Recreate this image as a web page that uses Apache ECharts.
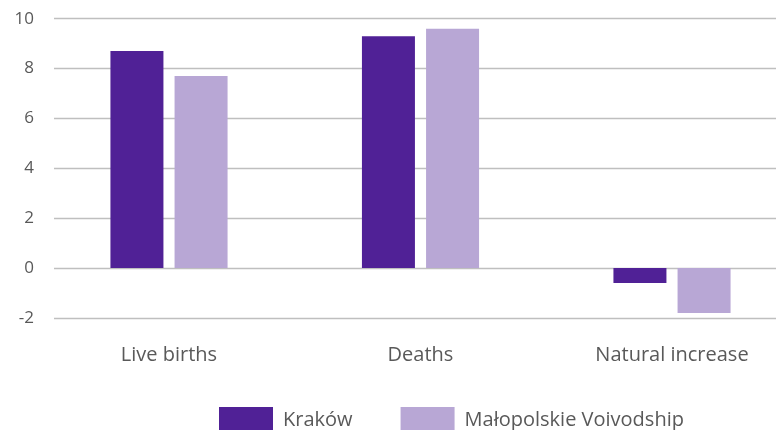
<!DOCTYPE html>
<html><head><meta charset="utf-8">
<script src="https://cdn.jsdelivr.net/npm/echarts@6/dist/echarts.min.js"></script>
<style>html,body{margin:0;padding:0;background:#fff}#c{width:776px;height:430px}</style>
</head><body><div id="c"></div>
<script>
const categories = ['Live births', 'Deaths', 'Natural increase'];
const seriesNames = ['Kraków', 'Małopolskie Voivodship'];
const krakow = [8.7, 9.3, -0.6];
const malopolskie = [7.7, 9.6, -1.8];
const colors = ['#502196', '#b8a7d5'];
const yMin = -2, yMax = 10, yStep = 2;

const chart = echarts.init(document.getElementById('c'));
const font = '"Open Sans", "Noto Sans", sans-serif';
chart.setOption({
  animation: false,
  grid: [
    { left: 54, right: 0, top: 18.7, bottom: 112, containLabel: false },
    { left: 169, width: 503, top: 18.7, bottom: 112, containLabel: false }
  ],
  xAxis: [
    { gridIndex: 0, type: 'category', data: categories, show: false },
    { gridIndex: 1, type: 'category', data: categories, boundaryGap: false,
      axisLine: { show: false, onZero: false }, axisTick: { show: false },
      splitLine: { show: false },
      axisLabel: { margin: 27, fontSize: 20, color: '#595959', fontFamily: font } }
  ],
  yAxis: [
    { gridIndex: 0, type: 'value', min: yMin, max: yMax, interval: yStep,
      axisLine: { show: false }, axisTick: { show: false },
      splitLine: { lineStyle: { color: '#bfbfbf', width: 1.3 } },
      axisLabel: { margin: 20, fontSize: 17, color: '#595959', fontFamily: font } },
    { gridIndex: 1, type: 'value', min: yMin, max: yMax, interval: yStep, show: false,
      splitLine: { show: false } }
  ],
  legend: {
    left: 219, top: 407, padding: 0, itemWidth: 54, itemHeight: 26, itemGap: 48,
    icon: 'rect',
    textStyle: { fontSize: 20, color: '#595959', fontFamily: font, padding: [0, 0, 0, 5] },
    data: seriesNames
  },
  series: [
    { name: seriesNames[0], type: 'bar', xAxisIndex: 1, yAxisIndex: 1, data: krakow,
      barWidth: 53, barGap: '21%', itemStyle: { color: colors[0] } },
    { name: seriesNames[1], type: 'bar', xAxisIndex: 1, yAxisIndex: 1, data: malopolskie,
      barWidth: 53, barGap: '21%', itemStyle: { color: colors[1] } }
  ]
});
</script></body></html>
